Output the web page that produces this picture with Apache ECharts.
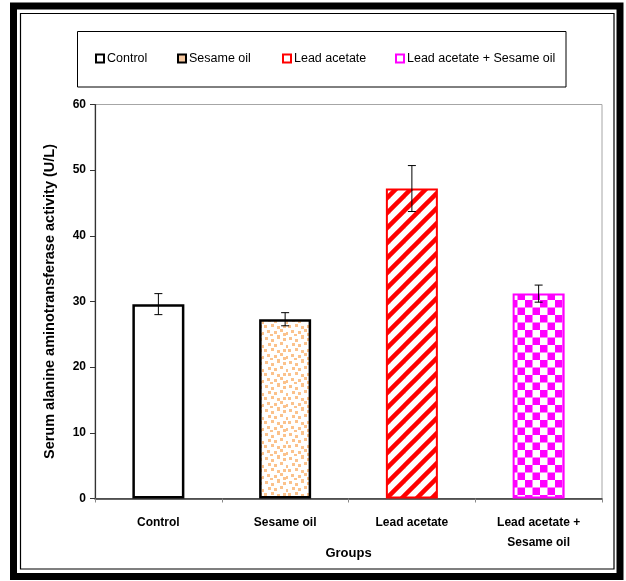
<!DOCTYPE html>
<html><head><meta charset="utf-8">
<script src="https://cdn.jsdelivr.net/npm/echarts@6/dist/echarts.min.js"></script>
<style>html,body{margin:0;padding:0;background:#fff}#c{width:626px;height:581px}</style>
</head><body><div id="c"></div>
<script>
var categories = ['Control', 'Sesame oil', 'Lead acetate', 'Lead acetate +\nSesame oil'];
var seriesNames = ['Control', 'Sesame oil', 'Lead acetate', 'Lead acetate + Sesame oil'];
var means = [29.6, 27.3, 47.2, 31.2];
var errors = [1.6, 1.0, 3.5, 1.3];
var yTicks = [0, 10, 20, 30, 40, 50, 60];

function makeCanvas(w, h, draw) {
  var c = document.createElement('canvas'); c.width = w; c.height = h;
  var ctx = c.getContext('2d'); ctx.fillStyle = '#fff'; ctx.fillRect(0, 0, w, h);
  draw(ctx); return c;
}
var dotPat = makeCanvas(24, 24, function (ctx) {
  ctx.fillStyle = '#fbc28c';
  var pts = [[1,1],[7,3],[13,0],[19,2],[4,7],[10,8],[16,6],[22,9],[0,13],[7,12],[13,14],[19,13],[3,18],[10,19],[16,17],[22,20],[6,22],[13,23],[19,21]];
  pts.forEach(function (p) { ctx.fillRect(p[0], p[1], 3, 3); });
});
var stripePat = makeCanvas(15, 15, function (ctx) {
  ctx.strokeStyle = '#ff0000'; ctx.lineWidth = 4.5;
  for (var k = -1; k <= 1; k++) {
    ctx.beginPath(); ctx.moveTo(-5 + k * 15, 20); ctx.lineTo(20 + k * 15, -5); ctx.stroke();
  }
});
var checkPat = makeCanvas(15, 15, function (ctx) {
  ctx.fillStyle = '#ff00ff';
  ctx.fillRect(0, 0, 7.5, 7.5); ctx.fillRect(7.5, 7.5, 7.5, 7.5);
});

var fills = ['#ffffff', {image: dotPat, repeat: 'repeat'}, {image: stripePat, repeat: 'repeat'}, {image: checkPat, repeat: 'repeat'}];
var borders = ['#000000', '#000000', '#ff0000', '#ff00ff'];
var legendFill = ['#ffffff', '#f6c8a0', '#ffffff', '#ffffff'];
var legendX = [95, 177, 282, 395];

var series = seriesNames.map(function (n, i) {
  var d = categories.map(function (c, j) { return j === i ? means[j] : '-'; });
  return {
    name: n, type: 'bar', data: d, barWidth: 52, barGap: '-100%',
    itemStyle: {color: fills[i], borderColor: borders[i], borderWidth: i < 2 ? 2.5 : 2},
    emphasis: {disabled: true}, z: 2
  };
});
series.push({
  type: 'custom', z: 5, silent: true,
  data: means.map(function (m, i) { return [i, m - errors[i], m + errors[i]]; }),
  renderItem: function (params, api) {
    var lo = api.coord([api.value(0), api.value(1)]);
    var hi = api.coord([api.value(0), api.value(2)]);
    var x = lo[0], hw = 4;
    var st = {stroke: '#000', lineWidth: 1};
    return {type: 'group', children: [
      {type: 'line', shape: {x1: x, y1: lo[1], x2: x, y2: hi[1]}, style: st},
      {type: 'line', shape: {x1: x - hw, y1: lo[1], x2: x + hw, y2: lo[1]}, style: st},
      {type: 'line', shape: {x1: x - hw, y1: hi[1], x2: x + hw, y2: hi[1]}, style: st}
    ]};
  }
});

var legends = seriesNames.map(function (n, i) {
  return {
    left: legendX[i], top: 52, padding: 0, icon: 'rect', itemWidth: 8, itemHeight: 8, itemGap: 3,
    selectedMode: false,
    textStyle: {fontFamily: 'Liberation Sans', fontSize: 12.5, color: '#000', padding: [0, 0, 0, -2]},
    data: [{name: n, itemStyle: {color: legendFill[i], borderColor: borders[i], borderWidth: 2}}]
  };
});

var chart = echarts.init(document.getElementById('c'), null, {renderer: 'canvas'});
chart.setOption({
  backgroundColor: '#fff',
  animation: false,
  legend: legends,
  graphic: [
    {type: 'rect', z: -10, shape: {x: 13.5, y: 6, width: 606.5, height: 570.5}, style: {fill: 'none', stroke: '#000', lineWidth: 7}},
    {type: 'rect', z: -10, shape: {x: 20.5, y: 13.5, width: 593.5, height: 555.5}, style: {fill: 'none', stroke: '#000', lineWidth: 1.2}},
    {type: 'rect', z: -10, shape: {x: 77.5, y: 31.5, width: 488.5, height: 55.5}, style: {fill: 'none', stroke: '#000', lineWidth: 1}}
  ],
  grid: {left: 95, top: 104.5, right: 24, bottom: 82.5, show: true, borderColor: '#a6a6a6', borderWidth: 1, backgroundColor: 'transparent'},
  xAxis: {
    type: 'category', data: categories,
    name: 'Groups', nameLocation: 'middle', nameGap: 48, nameMoveOverlap: false,
    nameTextStyle: {fontFamily: 'Liberation Sans', fontWeight: 'bold', fontSize: 13, color: '#000'},
    axisLine: {lineStyle: {color: '#333', width: 1.5}},
    axisTick: {show: true, length: 4, lineStyle: {color: '#888'}},
    axisLabel: {fontFamily: 'Liberation Sans', fontWeight: 'bold', fontSize: 12, color: '#000', margin: 14, lineHeight: 20, interval: 0}
  },
  yAxis: {
    type: 'value', min: 0, max: 60, interval: 10,
    name: 'Serum alanine aminotransferase activity (U/L)', nameLocation: 'middle', nameGap: 38, nameRotate: 90,
    nameTextStyle: {fontFamily: 'Liberation Sans', fontWeight: 'bold', fontSize: 14.5, color: '#000'},
    axisLine: {show: true, lineStyle: {color: '#333', width: 1.2}},
    axisTick: {show: true, length: 5, lineStyle: {color: '#333'}},
    splitLine: {show: false},
    axisLabel: {fontFamily: 'Liberation Sans', fontWeight: 'bold', fontSize: 12, color: '#000', margin: 9,
      formatter: function (v) { return yTicks.indexOf(v) >= 0 ? String(v) : ''; }}
  },
  series: series
});
</script></body></html>
